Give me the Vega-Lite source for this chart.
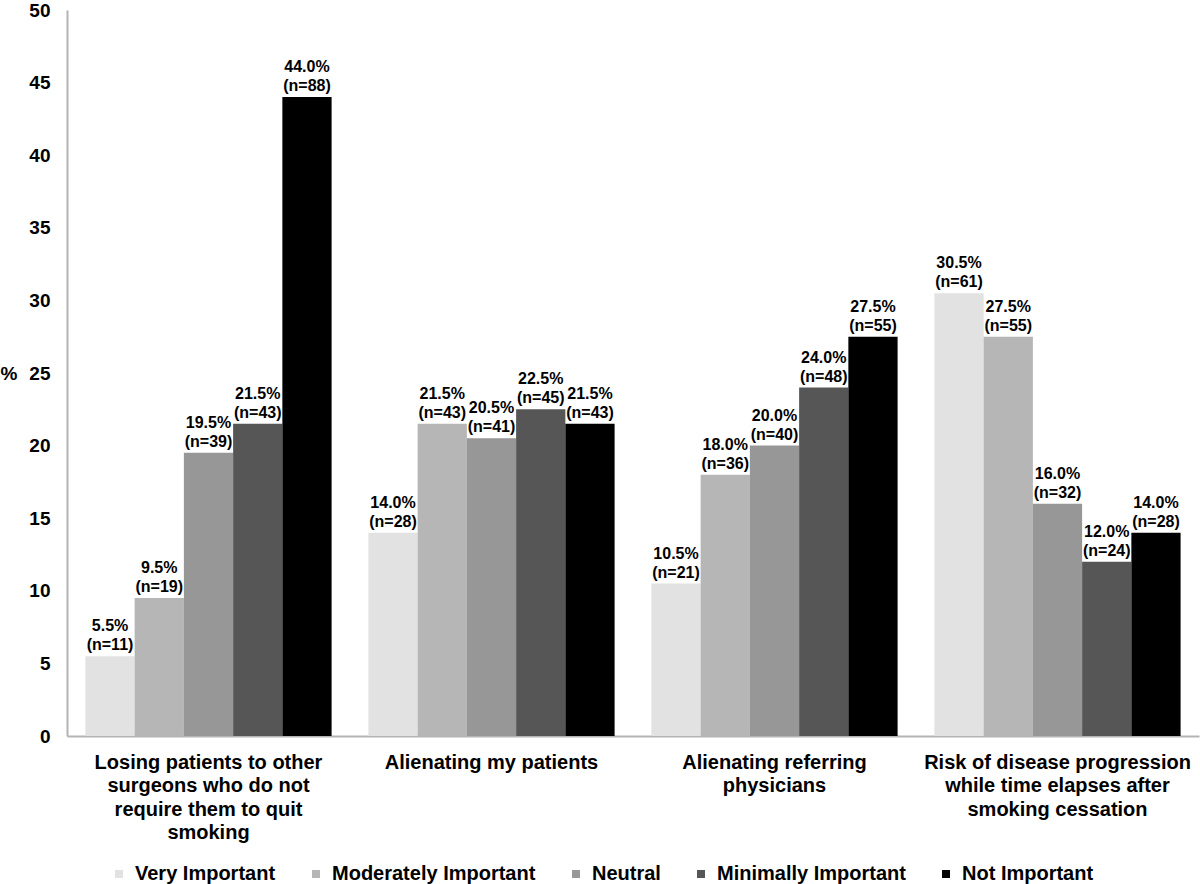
{
  "$schema": "https://vega.github.io/schema/vega-lite/v6.json",
  "autosize": {"type": "none"},
  "padding": {"left": 67, "top": 10, "right": 1, "bottom": 148},
  "width": 1132,
  "height": 726,
  "background": "white",
  "config": {
    "view": {"stroke": null},
    "font": "Liberation Sans",
    "axis": {"labelFont": "Liberation Sans", "titleFont": "Liberation Sans"},
    "legend": {"labelFont": "Liberation Sans"}
  },
  "data": {
    "values": [
      {"question": "Losing patients to other|surgeons who do not|require them to quit|smoking", "rating": "Very Important", "pct": 5.5, "label": "5.5%\n(n=11)"},
      {"question": "Losing patients to other|surgeons who do not|require them to quit|smoking", "rating": "Moderately Important", "pct": 9.5, "label": "9.5%\n(n=19)"},
      {"question": "Losing patients to other|surgeons who do not|require them to quit|smoking", "rating": "Neutral", "pct": 19.5, "label": "19.5%\n(n=39)"},
      {"question": "Losing patients to other|surgeons who do not|require them to quit|smoking", "rating": "Minimally Important", "pct": 21.5, "label": "21.5%\n(n=43)"},
      {"question": "Losing patients to other|surgeons who do not|require them to quit|smoking", "rating": "Not Important", "pct": 44.0, "label": "44.0%\n(n=88)"},
      {"question": "Alienating my patients", "rating": "Very Important", "pct": 14.0, "label": "14.0%\n(n=28)"},
      {"question": "Alienating my patients", "rating": "Moderately Important", "pct": 21.5, "label": "21.5%\n(n=43)"},
      {"question": "Alienating my patients", "rating": "Neutral", "pct": 20.5, "label": "20.5%\n(n=41)"},
      {"question": "Alienating my patients", "rating": "Minimally Important", "pct": 22.5, "label": "22.5%\n(n=45)"},
      {"question": "Alienating my patients", "rating": "Not Important", "pct": 21.5, "label": "21.5%\n(n=43)"},
      {"question": "Alienating referring|physicians", "rating": "Very Important", "pct": 10.5, "label": "10.5%\n(n=21)"},
      {"question": "Alienating referring|physicians", "rating": "Moderately Important", "pct": 18.0, "label": "18.0%\n(n=36)"},
      {"question": "Alienating referring|physicians", "rating": "Neutral", "pct": 20.0, "label": "20.0%\n(n=40)"},
      {"question": "Alienating referring|physicians", "rating": "Minimally Important", "pct": 24.0, "label": "24.0%\n(n=48)"},
      {"question": "Alienating referring|physicians", "rating": "Not Important", "pct": 27.5, "label": "27.5%\n(n=55)"},
      {"question": "Risk of disease progression|while time elapses after|smoking cessation", "rating": "Very Important", "pct": 30.5, "label": "30.5%\n(n=61)"},
      {"question": "Risk of disease progression|while time elapses after|smoking cessation", "rating": "Moderately Important", "pct": 27.5, "label": "27.5%\n(n=55)"},
      {"question": "Risk of disease progression|while time elapses after|smoking cessation", "rating": "Neutral", "pct": 16.0, "label": "16.0%\n(n=32)"},
      {"question": "Risk of disease progression|while time elapses after|smoking cessation", "rating": "Minimally Important", "pct": 12.0, "label": "12.0%\n(n=24)"},
      {"question": "Risk of disease progression|while time elapses after|smoking cessation", "rating": "Not Important", "pct": 14.0, "label": "14.0%\n(n=28)"}
    ]
  },
  "encoding": {
    "x": {
      "field": "question",
      "type": "nominal",
      "sort": null,
      "scale": {"paddingInner": 0.13, "paddingOuter": 0.065},
      "axis": {
        "title": null,
        "labelAngle": 0,
        "labelExpr": "split(datum.label, '|')",
        "labelFontSize": 20,
        "labelFontWeight": "bold",
        "labelColor": "#000000",
        "labelLineHeight": 23.5,
        "labelPadding": 16,
        "labelBaseline": "top",
        "labelLimit": 0,
        "ticks": false,
        "domainColor": "#b4b4b4",
        "domainWidth": 2
      }
    },
    "xOffset": {
      "field": "rating",
      "type": "nominal",
      "sort": ["Very Important", "Moderately Important", "Neutral", "Minimally Important", "Not Important"]
    },
    "y": {
      "field": "pct",
      "type": "quantitative",
      "scale": {"domain": [0, 50], "nice": false},
      "axis": {
        "values": [0, 5, 10, 15, 20, 25, 30, 35, 40, 45, 50],
        "grid": false,
        "ticks": false,
        "labelFontSize": 19,
        "labelFontWeight": "bold",
        "labelColor": "#000000",
        "labelPadding": 17,
        "domainColor": "#b4b4b4",
        "domainWidth": 2,
        "title": "%",
        "titleAngle": 0,
        "titleFontSize": 19,
        "titleFontWeight": "bold",
        "titleColor": "#000000",
        "titleAlign": "left",
        "titleBaseline": "middle",
        "titleX": -67,
        "titleY": 363
      }
    }
  },
  "layer": [
    {
      "mark": {"type": "bar"},
      "encoding": {
        "color": {
          "field": "rating",
          "type": "nominal",
          "sort": ["Very Important", "Moderately Important", "Neutral", "Minimally Important", "Not Important"],
          "scale": {
            "domain": ["Very Important", "Moderately Important", "Neutral", "Minimally Important", "Not Important"],
            "range": ["#e2e2e2", "#b6b6b6", "#979797", "#565656", "#000000"]
          },
          "legend": {
            "title": null,
            "orient": "none",
            "direction": "horizontal",
            "legendX": 42,
            "legendY": 854,
            "symbolType": "square",
            "symbolSize": 64,
            "symbolStrokeWidth": 0,
            "labelFontSize": 20,
            "labelFontWeight": "bold",
            "labelColor": "#000000",
            "labelOffset": 6,
            "columnPadding": 30,
            "labelLimit": 0
          }
        }
      }
    },
    {
      "mark": {
        "type": "text",
        "baseline": "bottom",
        "align": "center",
        "dy": -22,
        "fontSize": 16,
        "fontWeight": "bold",
        "lineBreak": "\n",
        "lineHeight": 19,
        "color": "#000000"
      },
      "encoding": {
        "text": {"field": "label", "type": "nominal"}
      }
    }
  ]
}
